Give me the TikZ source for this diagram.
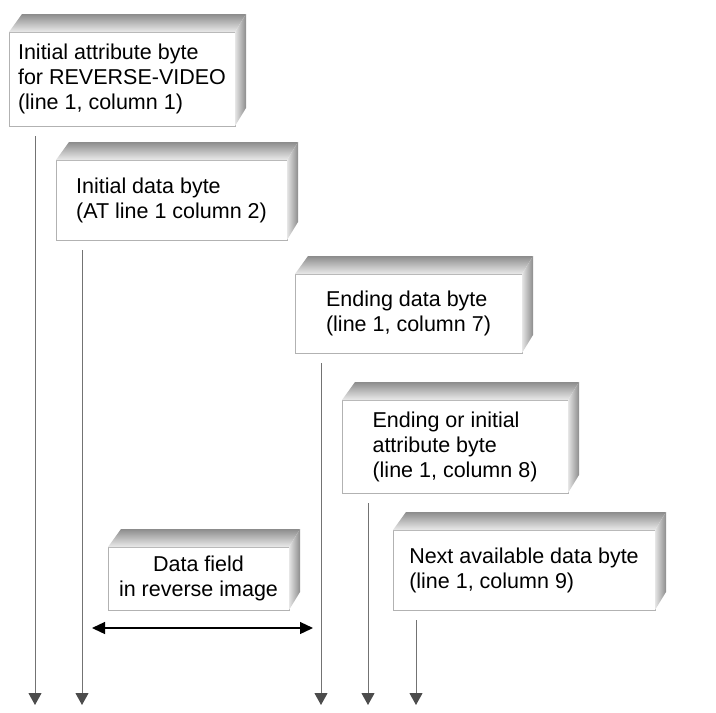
\documentclass[tikz,border=0pt]{standalone}
\usepackage{fontspec}
\setmainfont{Liberation Sans}
\usetikzlibrary{arrows.meta, positioning}

\begin{document}
\begin{tikzpicture}[
    x=1pt, y=-1pt,
    slab/.style={rectangle, draw=black!30, fill=white, inner sep=0pt, outer sep=0pt, anchor=north west, align=left, font=\fontsize{21.5}{25}\selectfont},
    lid/.style={top color=black!45, bottom color=black!8},
    flank/.style={left color=black!10, right color=black!45},
    drop/.style={draw=black!55, line width=1pt, -{Triangle[width=13pt,length=12pt,color=black!70]}},
    span/.style={line width=1.3pt, {Triangle[width=12pt,length=13pt]}-{Triangle[width=12pt,length=13pt]}}
]
\useasboundingbox (0,0) rectangle (716,713);

\node[slab, minimum width=226pt, minimum height=94pt] (attr) at (9,32) {Initial attribute byte\\for REVERSE-VIDEO\\(line 1, column 1)};
\node[slab, minimum width=231pt, minimum height=80pt] (data) at (56,160) {Initial data byte\\(AT line 1 column 2)};
\node[slab, minimum width=227pt, minimum height=79pt] (endd) at (295,274) {Ending data byte\\(line 1, column 7)};
\node[slab, minimum width=226pt, minimum height=93pt] (endattr) at (342,400) {Ending or initial\\attribute byte\\(line 1, column 8)};
\node[slab, minimum width=262pt, minimum height=80pt] (next) at (393,530) {Next available data byte\\(line 1, column 9)};
\node[slab, align=center, minimum width=181pt, minimum height=63pt] (field) at (108,547) {Data field\\in reverse image};

% shaded top and side of each box
\foreach \b in {attr,data,endd,endattr,next,field} {
  \shade[lid] (\b.north west) -- ++(13,-18) -- ([shift={(11,-18)}]\b.north east) -- (\b.north east) -- cycle;
  \shade[flank] (\b.north east) -- ++(11,-18) -- ([shift={(11,-18)}]\b.south east) -- (\b.south east) -- cycle;
}

\coordinate (floor) at (0,705);
\foreach \b/\dx in {attr/26,data/26,endd/26,endattr/26,next/23}
  \draw[drop] ([shift={(\dx,10)}]\b.south west) coordinate (top) -- (top |- floor);

\coordinate (spanl) at (92,628);
\coordinate (spanr) at (313,628);
\draw[span] (spanl) -- (spanr);

\end{tikzpicture}
\end{document}
